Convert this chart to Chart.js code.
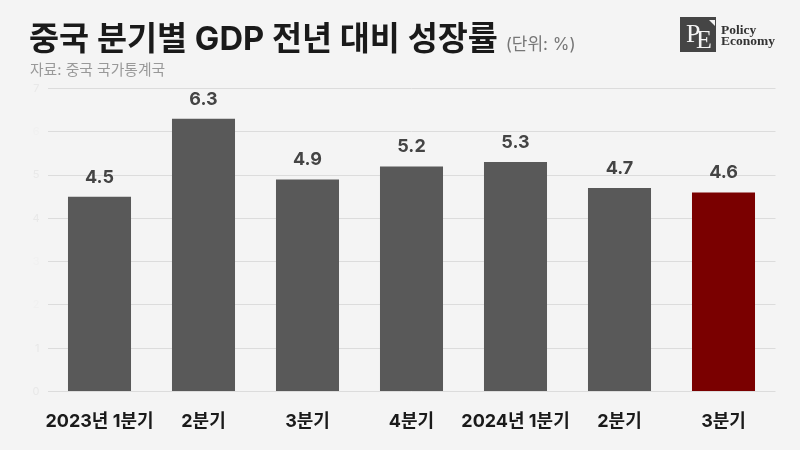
<!DOCTYPE html>
<html lang="ko">
<head>
<meta charset="utf-8">
<title>중국 분기별 GDP 전년 대비 성장률</title>
<script src="https://cdn.jsdelivr.net/npm/chart.js@4/dist/chart.umd.min.js"></script>
<style>
  html, body { margin: 0; padding: 0; background: #f4f4f4; }
  body { width: 800px; height: 450px; overflow: hidden; position: relative; font-family: Inter, "Noto Sans CJK KR", sans-serif; }
  canvas { position: absolute; left: 0; top: 0; }
  .title { position: absolute; left: 29px; top: 14px; font-size: 32.7px; line-height: 48px; font-weight: 700; color: #1a1a1a; white-space: nowrap; }
  .unit { font-size: 17px; font-weight: 400; color: #777; }
  .source { position: absolute; left: 30px; top: 60px; font-size: 14.8px; line-height: 20px; color: #999; white-space: nowrap; }
  .logo { position: absolute; left: 680px; top: 17px; width: 35.5px; height: 35px; background: #454545; overflow: hidden; }
  .logo b { position: absolute; font: 400 26px/26px "Liberation Serif", serif; color: #f4f4f4; }
  .logo .p { left: 6px; top: 4px; }
  .logo .e { left: 16px; top: 10px; }
  .logo i { position: absolute; right: 1px; top: 3px; border-top: 6px solid #f4f4f4; border-left: 6px solid transparent; }
  .logoText { position: absolute; left: 721px; top: 24px; font: 700 13.5px/11px "Liberation Serif", serif; color: #333; }
</style>
</head>
<body>
<canvas id="chartBar" width="800" height="450"></canvas>
<div class="title">중국 분기별 GDP 전년 대비 성장률 <span class="unit">(단위: %)</span></div>
<div class="source">자료: 중국 국가통계국</div>
<div class="logo"><b class="p">P</b><b class="e">E</b><i></i></div>
<div class="logoText">Policy<br>Economy</div>
<script>
var categories = ['2023년 1분기', '2분기', '3분기', '4분기', '2024년 1분기', '2분기', '3분기'];
var growth = [4.5, 6.3, 4.9, 5.2, 5.3, 4.7, 4.6];
var barColors = ['#595959', '#595959', '#595959', '#595959', '#595959', '#595959', '#7a0000'];

var fontFamily = 'Inter, "Noto Sans CJK KR", sans-serif';

// value labels above the bars
var valueLabels = {
    id: 'valueLabels',
    afterDatasetsDraw: function(chart) {
        var ctx = chart.ctx;
        ctx.save();
        ctx.font = '700 18px ' + fontFamily;
        ctx.fillStyle = '#444';
        ctx.textAlign = 'center';
        ctx.textBaseline = 'middle';
        chart.getDatasetMeta(0).data.forEach(function(bar, i) {
            ctx.fillText(growth[i].toFixed(1), bar.x, bar.y - 19.5);
        });
        ctx.restore();
    }
};

new Chart(document.getElementById('chartBar'), {
    type: 'bar',
    data: {
        labels: categories,
        datasets: [{
            data: growth,
            backgroundColor: barColors,
            categoryPercentage: 1,
            barPercentage: 0.606
        }]
    },
    options: {
        responsive: false,
        animation: false,
        layout: { padding: { top: 88.5, right: 24.5, bottom: 0, left: 0 } },
        plugins: { legend: { display: false }, tooltip: { enabled: false } },
        scales: {
            x: {
                grid: { display: false },
                border: { display: false },
                ticks: {
                    color: '#1a1a1a',
                    padding: 11,
                    maxRotation: 0,
                    autoSkip: false,
                    font: { family: fontFamily, size: 18, weight: '700' }
                },
                afterFit: function(scale) { scale.height = 58.5; }
            },
            y: {
                min: 0,
                max: 7,
                grid: { color: '#dcdcdc', lineWidth: 1, drawTicks: false },
                border: { display: false },
                ticks: {
                    stepSize: 1,
                    padding: 8,
                    // the labels are almost washed out in the source picture
                    color: function(c) {
                        return [2, 3, 6].indexOf(c.tick.value) >= 0 ? '#f0f0f0' : '#e8e8e8';
                    },
                    font: { family: fontFamily, size: 11 }
                },
                afterFit: function(scale) { scale.width = 47.5; }
            }
        }
    },
    plugins: [valueLabels]
});
</script>
</body>
</html>
